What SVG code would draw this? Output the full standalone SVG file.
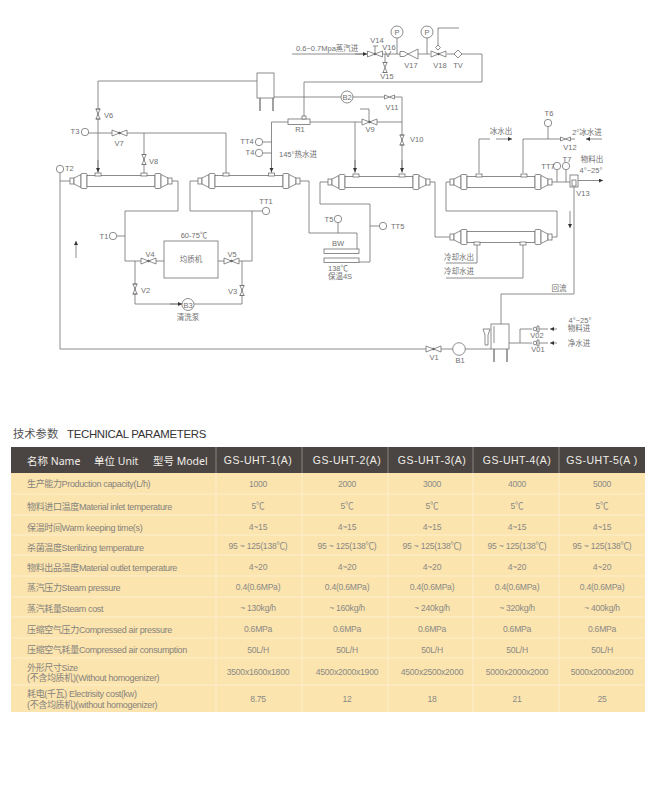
<svg xmlns="http://www.w3.org/2000/svg" width="663" height="798" viewBox="0 0 663 798">
<style>
text{font-family:"Liberation Sans","Noto Sans CJK SC",sans-serif}
.l{fill:none;stroke:#707070;stroke-width:.8}
.s{fill:#fff;stroke:#707070;stroke-width:.8}
.t{font-size:7.500px;fill:#707070}
.m{text-anchor:middle}
.c{font-size:8.600px;fill:#8a8a86;text-anchor:middle;letter-spacing:-.25px}
.d{font-size:9px;fill:#85837d;letter-spacing:-.35px}
.h{font-family:"Noto Sans","Noto Sans CJK SC",sans-serif;font-size:10.500px;fill:#f1eee8;font-weight:400}
.g{text-anchor:middle;letter-spacing:.5px}
.row{fill:#fce4ae}
.sep{stroke:#fdf0d3;stroke-width:.8}
</style>
<defs>
<marker id="a" markerWidth="5" markerHeight="5" refX="4" refY="2" orient="auto" markerUnits="userSpaceOnUse"><path d="M0 0L4 2L0 4z" fill="#333"/></marker>
<g id="hx" class="s">
<rect x="0" y="-3" width="4" height="6"/><path d="M4-3L11-6.500V6.500L4 3z"/><rect x="11" y="-7.500" width="6" height="15" rx="1"/>
<rect x="17" y="-5.500" width="68" height="11"/><rect x="85" y="-7.500" width="6" height="15" rx="1"/><path d="M91-6.500L98-3V3L91 6.500z"/><rect x="98" y="-3" width="4" height="6"/>
</g>
<rect id="port" class="s" x="-3" y="-1.500" width="6" height="3"/>
<g id="vb" class="s"><path d="M-7.500-3L0 0L-7.500 3zM7.500-3L0 0L7.500 3z"/><circle r=".9" fill="#555"/></g>
<g id="vv" class="s"><path d="M-2-5L0 0L2-5zM-2 5L0 0L2 5z"/><path d="M-2.500-5H2.500M-2.500 5H2.500"/></g>
<g id="vs" class="s"><path d="M-5-2L0 0L-5 2zM5-2L0 0L5 2z"/></g>
<circle id="o" class="s" r="3.700"/>
</defs>

<g id="connectors" class="l">
<path d="M98 173V81H257"/>
<path d="M85 133H226V173"/>
<path d="M144 133V173"/>
<path d="M60 173V349H426"/>
<path d="M60 181H70"/>
<path d="M172 181H178V211H125V261H164"/>
<path d="M125 236H117"/>
<path d="M135 261V304H242V261"/>
<path d="M218 261H252V211H190V181H198"/>
<path d="M252 211H262"/>
<path d="M300 181H309V233H357V249"/>
<path d="M338 223V233"/>
<path d="M359 262H370V204H320V182H328"/>
<path d="M370 226H380"/>
<path d="M430 182H435V237H450"/>
<path d="M552 237H557V211H446V182H450"/>
<path d="M552 182H570"/>
<path d="M557 170V182M566 170V182"/>
<path d="M574 187V294H501V324"/>
<path d="M441 349H491"/>
<path d="M509 343H532M520 343V329H532"/>
<path d="M545 329H548M545 343H548"/>
<path d="M477 245V263H446M523 245V278H446"/>
<path d="M479 173V139H490"/>
<path d="M496 139H508"/>
<path d="M523 173V139H562M548 127V139M570 139H575"/>
<path d="M292 54H367"/>
<path d="M383 54H400M397 38V54M418 54H430M427 38V54M447 54H482V82H304V117"/>
<path d="M385 54V62"/>
<path d="M438 50V28H459"/>
<path d="M274 97H384M395 97H402V173"/>
<path d="M288 122H271.500V173M310 122H402"/>
<path d="M355 122V173"/>
<path d="M263 142H271.500M263 153H271.500"/>
<path d="M369 118V109H360"/>
<g marker-end="url(#a)">
<path d="M98 160V172"/><path d="M271.500 160V172"/><path d="M355 160V172"/><path d="M402 160V172"/>
<path d="M76 258V241"/><path d="M570 211V228"/><path d="M578 180.500H603"/>
<path d="M355 54H367"/><path d="M508 139H512"/><path d="M602 139H586"/>
<path d="M557 329H550"/><path d="M557 343H550"/><path d="M170 304H182"/>
</g>
</g>

<g id="hx1"><use href="#hx" x="70" y="181"/><use href="#port" x="98" y="174.500"/><use href="#port" x="144" y="174.500"/></g>
<g id="hx2"><use href="#hx" x="198" y="181"/><use href="#port" x="226" y="174.500"/><use href="#port" x="271.500" y="174.500"/></g>
<g id="hx3"><use href="#hx" x="328" y="182"/><use href="#port" x="356" y="175.500"/><use href="#port" x="402" y="175.500"/></g>
<g id="hx4"><use href="#hx" x="450" y="182"/><use href="#port" x="479" y="175.500"/><use href="#port" x="524" y="175.500"/></g>
<g id="hx5"><use href="#hx" x="450" y="237"/><use href="#port" x="477" y="243.500"/><use href="#port" x="523" y="243.500"/></g>

<g id="tank-top"><rect class="s" x="257" y="73" width="17" height="25"/><path class="l" d="M260 98V111M273 98V111" style="stroke-width:1.300"/></g>
<g id="r1"><rect class="s" x="288" y="119" width="22" height="5.500"/><rect class="s" x="302" y="116" width="4" height="3"/><text class="t m" x="300" y="132">R1</text></g>
<g id="homogenizer"><rect class="s" x="164" y="241" width="54" height="37"/><text class="t m" x="191" y="262">均质机</text><text class="t m" x="194" y="238">60-75℃</text></g>
<g id="bw"><rect class="s" x="324" y="249" width="35" height="4.500"/><rect class="s" x="324" y="258" width="35" height="4.500"/><text class="t m" x="338" y="246">BW</text><text class="t m" x="338" y="271">138℃</text><text class="t m" x="340" y="279">保温4S</text></g>
<g id="v13"><rect class="s" x="570" y="175" width="8" height="12"/><rect class="s" x="572" y="180" width="4" height="6"/><text class="t m" x="583" y="196">V13</text></g>
<g id="feed-tank"><rect class="s" x="491" y="324" width="18" height="25"/><path class="l" d="M494 349V362M507 349V362" style="stroke-width:1.300"/><path class="l" d="M494 326V343"/><path class="s" d="M483 329H490L488 335V345H485V335z"/></g>

<g id="v1"><use href="#vb" x="433.500" y="349"/><text class="t m" x="434" y="360">V1</text></g>
<g id="v2"><use href="#vv" x="135" y="289"/><text class="t" x="141" y="292.500">V2</text></g>
<g id="v3"><use href="#vv" x="242" y="290.500"/><text class="t" x="228" y="294">V3</text></g>
<g id="v4"><use href="#vb" x="148.500" y="261"/><text class="t m" x="150" y="257">V4</text></g>
<g id="v5"><use href="#vb" x="231.500" y="261"/><text class="t m" x="232" y="257">V5</text></g>
<g id="v6"><use href="#vv" x="98" y="114"/><text class="t" x="104" y="118">V6</text></g>
<g id="v7"><use href="#vb" x="119.500" y="133"/><text class="t m" x="119" y="146">V7</text></g>
<g id="v8"><use href="#vv" x="144" y="159.500"/><text class="t" x="149" y="164">V8</text></g>
<g id="v9"><use href="#vb" x="369.500" y="122"/><path class="s" d="M369 122V118"/><text class="t m" x="370" y="132">V9</text></g>
<g id="v10"><use href="#vv" x="402" y="140"/><text class="t" x="410" y="142">V10</text></g>
<g id="v11"><use href="#vs" x="389.500" y="97"/><text class="t m" x="392" y="110">V11</text></g>
<g id="v12"><use href="#vs" x="565.500" y="139"/><text class="t m" x="570" y="150">V12</text></g>
<g id="v14"><use href="#vb" x="375" y="54"/><path class="l" d="M375 54V46M373 46H378"/><text class="t m" x="377" y="43">V14</text></g>
<g id="v15"><use href="#vv" x="385" y="67.500"/><text class="t m" x="387" y="79">V15</text></g>
<g id="v16"><path class="l" d="M385 51L388 57L391 51"/><text class="t m" x="389" y="50">V16</text></g>
<g id="v17"><path class="s" d="M400 51.500H404L408 54L404 56.500H400zM408 54L418 49V59z"/><text class="t m" x="411" y="68">V17</text></g>
<g id="v18"><use href="#vb" x="438.500" y="54"/><path class="s" d="M438 45L440.500 47.500L438 50L435.500 47.500z"/><text class="t m" x="440" y="68">V18</text></g>
<g id="tv"><path class="s" d="M458 50L462 54L458 58L454 54z"/><text class="t m" x="458" y="68">TV</text></g>
<g id="v01"><circle class="s" cx="535" cy="343" r="1.800"/><path class="s" d="M537 340V346H539V340zM539 343H545"/><text class="t m" x="538" y="352">V01</text></g>
<g id="v02"><circle class="s" cx="535" cy="329" r="1.800"/><path class="s" d="M537 326V332H539V326zM539 329H545"/><text class="t m" x="537" y="338">V02</text></g>

<g id="p1"><circle class="s" cx="397" cy="32" r="6"/><text class="t m" x="397" y="35">P</text></g>
<g id="p2"><circle class="s" cx="427" cy="32" r="6"/><text class="t m" x="427" y="35">P</text></g>
<g id="b1"><circle class="s" cx="459" cy="349" r="6.300"/><text class="t m" x="460" y="363">B1</text></g>
<g id="b2"><circle class="s" cx="347" cy="97" r="6"/><text class="t m" x="347" y="100">B2</text></g>
<g id="b3"><circle class="s" cx="188" cy="304.500" r="6"/><text class="t m" x="188" y="307.500">B3</text><text class="t m" x="188" y="320">清洗泵</text></g>
<g id="t1"><use href="#o" x="113" y="236"/><text class="t m" x="104" y="239">T1</text></g>
<g id="t2"><use href="#o" x="60" y="169"/><text class="t" x="65" y="171">T2</text></g>
<g id="t3"><use href="#o" x="85" y="132"/><text class="t m" x="75" y="134">T3</text></g>
<g id="t4"><use href="#o" x="259" y="153"/><text class="t m" x="250" y="155">T4</text></g>
<g id="tt4"><use href="#o" x="259" y="142"/><text class="t m" x="247" y="144">TT4</text></g>
<g id="t5"><use href="#o" x="338" y="219"/><text class="t m" x="329" y="222">T5</text></g>
<g id="tt5"><use href="#o" x="383" y="226"/><text class="t" x="391" y="229">TT5</text></g>
<g id="t6"><use href="#o" x="548" y="123"/><text class="t m" x="549" y="116">T6</text></g>
<g id="t7"><use href="#o" x="566" y="166"/><text class="t m" x="567" y="162">T7</text></g>
<g id="tt7"><use href="#o" x="557" y="166"/><text class="t m" x="548" y="169">TT7</text></g>
<g id="tt1"><use href="#o" x="266" y="211"/><text class="t m" x="266" y="204">TT1</text></g>

<g id="labels" class="t">
<text x="296" y="51">0.6~0.7Mpa蒸汽进</text>
<text x="298" y="157" class="m">145°热水进</text>
<text x="501" y="134" class="m">冰水出</text>
<text x="587" y="135" class="m">2°冰水进</text>
<text x="592" y="162" class="m">物料出</text>
<text x="591" y="173" class="m">4°~25°</text>
<text x="459" y="260" class="m">冷却水出</text>
<text x="459" y="274" class="m">冷却水进</text>
<text x="559" y="291" class="m">回流</text>
<text x="580" y="323" class="m">4°~25°</text>
<text x="579" y="331" class="m">物料进</text>
<text x="579" y="346" class="m">净水进</text>
</g>

<g id="table">
<text x="13" y="438" font-size="11.300" fill="#555">技术参数</text>
<text x="67" y="438" font-size="11.400" fill="#333" letter-spacing="-.3">TECHNICAL PARAMETERS</text>
<rect x="11" y="447" width="634" height="26" fill="#4a4543"/>
<rect class="row" x="11" y="473" width="634" height="239"/>
<path stroke="#99948e" stroke-width=".8" d="M216 447V473M302 447V473M388 447V473M473 447V473M559 447V473"/>
<path class="sep" d="M216 473V712M302 473V712M388 473V712M473 473V712M559 473V712M11 494H645M11 515H645M11 535H645M11 555H645M11 576H645M11 597H645M11 617H645M11 638H645M11 658H645M11 685H645"/>
<text class="h" x="27" y="465">名称 Name</text><text class="h" x="94" y="465">单位 Unit</text><text class="h" x="153" y="465">型号 Model</text>
<g class="h g"><text x="258" y="464">GS-UHT-1(A)</text><text x="347" y="464">GS-UHT-2(A)</text><text x="432" y="464">GS-UHT-3(A)</text><text x="517" y="464">GS-UHT-4(A)</text><text x="602" y="464">GS-UHT-5(A )</text></g>
<g class="d">
<text x="27" y="487">生产能力Production capacity(L/h)</text>
<text x="27" y="510">物料进口温度Material inlet temperature</text>
<text x="27" y="531">保温时间Warm keeping time(s)</text>
<text x="27" y="551">杀菌温度Sterilizing temperature</text>
<text x="27" y="571">物料出品温度Material outlet temperature</text>
<text x="27" y="591">蒸汽压力Steam pressure</text>
<text x="27" y="612">蒸汽耗量Steam cost</text>
<text x="27" y="633">压缩空气压力Compressed air pressure</text>
<text x="27" y="653">压缩空气耗量Compressed air consumption</text>
<text x="27" y="671">外形尺寸Size</text>
<text x="27" y="681">(不含均质机)(Without homogenizer)</text>
<text x="27" y="697">耗电(千瓦) Electrisity cost(kw)</text>
<text x="27" y="708">(不含均质机)(without homogenizer)</text>
</g>
<g class="c">
<text x="258" y="487">1000</text><text x="347" y="487">2000</text><text x="432" y="487">3000</text><text x="517" y="487">4000</text><text x="602" y="487">5000</text>
<text x="258" y="509">5℃</text><text x="347" y="509">5℃</text><text x="432" y="509">5℃</text><text x="517" y="509">5℃</text><text x="602" y="509">5℃</text>
<text x="258" y="530">4~15</text><text x="347" y="530">4~15</text><text x="432" y="530">4~15</text><text x="517" y="530">4~15</text><text x="602" y="530">4~15</text>
<text x="258" y="549">95 ~ 125(138℃)</text><text x="347" y="549">95 ~ 125(138℃)</text><text x="432" y="549">95 ~ 125(138℃)</text><text x="517" y="549">95 ~ 125(138℃)</text><text x="602" y="549">95 ~ 125(138℃)</text>
<text x="258" y="570">4~20</text><text x="347" y="570">4~20</text><text x="432" y="570">4~20</text><text x="517" y="570">4~20</text><text x="602" y="570">4~20</text>
<text x="258" y="590">0.4(0.6MPa)</text><text x="347" y="590">0.4(0.6MPa)</text><text x="432" y="590">0.4(0.6MPa)</text><text x="517" y="590">0.4(0.6MPa)</text><text x="602" y="590">0.4(0.6MPa)</text>
<text x="258" y="611">~ 130kg/h</text><text x="347" y="611">~ 160kg/h</text><text x="432" y="611">~ 240kg/h</text><text x="517" y="611">~ 320kg/h</text><text x="602" y="611">~ 400kg/h</text>
<text x="258" y="632">0.6MPa</text><text x="347" y="632">0.6MPa</text><text x="432" y="632">0.6MPa</text><text x="517" y="632">0.6MPa</text><text x="602" y="632">0.6MPa</text>
<text x="258" y="653">50L/H</text><text x="347" y="653">50L/H</text><text x="432" y="653">50L/H</text><text x="517" y="653">50L/H</text><text x="602" y="653">50L/H</text>
<text x="258" y="675">3500x1600x1800</text><text x="347" y="675">4500x2000x1900</text><text x="432" y="675">4500x2500x2000</text><text x="517" y="675">5000x2000x2000</text><text x="602" y="675">5000x2000x2000</text>
<text x="258" y="702">8.75</text><text x="347" y="702">12</text><text x="432" y="702">18</text><text x="517" y="702">21</text><text x="602" y="702">25</text>
</g>
</g>
</svg>
